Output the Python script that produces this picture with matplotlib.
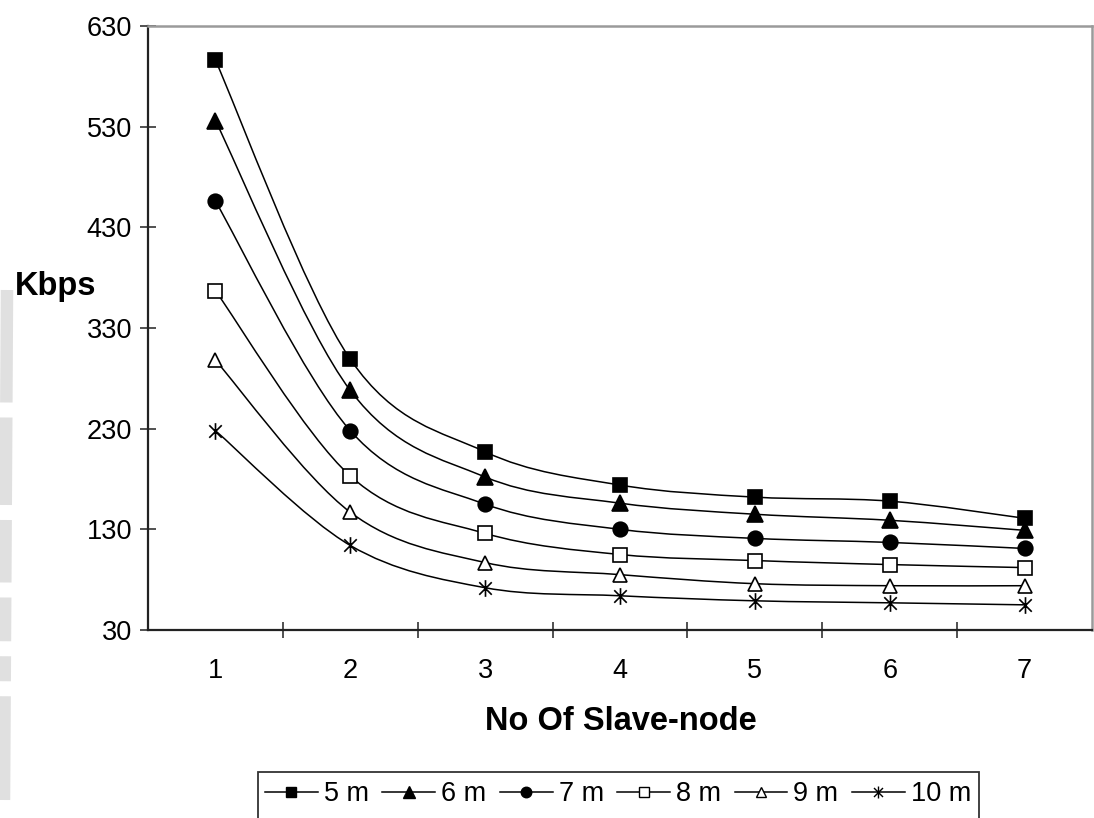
import numpy as np
import matplotlib
matplotlib.use("Agg")
import matplotlib.pyplot as plt
from matplotlib.path import Path
from matplotlib.patches import PathPatch, Rectangle
from matplotlib.lines import Line2D

plt.rcParams["font.family"] = ["Liberation Sans", "DejaVu Sans"]

# Throughput (Kbps) versus number of slave nodes, one series per distance
slave_nodes = [1, 2, 3, 4, 5, 6, 7]
series_labels = ["5 m", "6 m", "7 m", "8 m", "9 m", "10 m"]
kbps_5m = [596, 299, 207, 174, 162, 158, 141]
kbps_6m = [536, 268, 182, 156, 145, 139, 129]
kbps_7m = [456, 228, 155, 130, 121, 117, 111]
kbps_8m = [367, 183, 126, 105, 99, 95, 92]
kbps_9m = [298, 147, 97, 85, 76, 74, 74]
kbps_10m = [228, 114, 72, 64, 59, 57, 55]
y_ticks = [30, 130, 230, 330, 430, 530, 630]

all_series = [kbps_5m, kbps_6m, kbps_7m, kbps_8m, kbps_9m, kbps_10m]

# asterisk marker: vertical bar plus an X
star = Path(
    [(0, -1), (0, 1), (-0.75, -0.75), (0.75, 0.75), (-0.75, 0.75), (0.75, -0.75)],
    [Path.MOVETO, Path.LINETO, Path.MOVETO, Path.LINETO, Path.MOVETO, Path.LINETO],
)
marker_styles = [
    dict(marker="s", mfc="black", ms=10.5),
    dict(marker="^", mfc="black", ms=11.5),
    dict(marker="o", mfc="black", ms=10.5),
    dict(marker="s", mfc="white", ms=10.5),
    dict(marker="^", mfc="white", ms=10.5),
    dict(marker=star, mfc="none", ms=12),
]


def smooth_path(xs, ys):
    """Bezier path through the points with Catmull-Rom style control points."""
    pts = np.column_stack([xs, ys]).astype(float)
    n = len(pts)
    verts = [tuple(pts[0])]
    codes = [Path.MOVETO]
    for i in range(n - 1):
        p0 = pts[max(i - 1, 0)]
        p1 = pts[i]
        p2 = pts[i + 1]
        p3 = pts[min(i + 2, n - 1)]
        c1 = p1 + (p2 - p0) / 6.0
        c2 = p2 - (p3 - p1) / 6.0
        verts += [tuple(c1), tuple(c2), tuple(p2)]
        codes += [Path.CURVE4] * 3
    return Path(verts, codes)


fig = plt.figure(figsize=(10.94, 8.18), dpi=100)
ax = fig.add_axes([148 / 1094, 188 / 818, 944 / 1094, 604 / 818])

for vals, style in zip(all_series, marker_styles):
    ax.add_patch(PathPatch(smooth_path(slave_nodes, vals), fill=False,
                           edgecolor="black", lw=1.1, zorder=2))
    ax.plot(slave_nodes, vals, ls="none", mec="black", mew=1.2, zorder=3, **style)

ax.set_xlim(0.5, 7.5)
ax.set_ylim(30, 630)

# category labels at centres, tick marks on the boundaries
ax.set_xticks(slave_nodes)
ax.set_xticklabels([str(v) for v in slave_nodes])
ax.set_xticks(np.arange(1.5, 7.5, 1.0), minor=True)
ax.tick_params(axis="x", which="major", length=0, pad=20, labelsize=19.5)
ax.tick_params(axis="x", which="minor", direction="inout", length=11, width=1.1,
               color="#222222")
ax.set_yticks(y_ticks)
ax.tick_params(axis="y", which="major", direction="inout", length=11, width=1.1,
               color="#222222", pad=6, labelsize=19.5)

for side in ("left", "bottom"):
    ax.spines[side].set_linewidth(1.6)
    ax.spines[side].set_color("#222222")
for side in ("top", "right"):
    ax.spines[side].set_linewidth(1.8)
    ax.spines[side].set_color("#9a9a9a")

fig.text(15 / 1094, 1 - 287 / 818, "Kbps", fontsize=23.5, fontweight="bold",
         ha="left", va="center")
fig.text(621 / 1094, 1 - 722 / 818, "No Of Slave-node", fontsize=23.5,
         fontweight="bold", ha="center", va="center")

handles = [Line2D([], [], color="black", lw=1.1, mec="black", mew=1.0,
                  **{**s, "ms": s["ms"] * 0.72}) for s in marker_styles]
leg = fig.legend(handles, series_labels, ncol=6, loc="center left",
                 bbox_to_anchor=(265 / 1094, 1 - 794 / 818),
                 frameon=False, fontsize=19.5, handlelength=1.95,
                 handletextpad=0.22, columnspacing=0.5, borderpad=0,
                 borderaxespad=0)

# legend box: open at the bottom edge of the figure
fig.canvas.draw()
bb = leg.get_window_extent().transformed(fig.transFigure.inverted())
fig.add_artist(Rectangle((bb.x0 - 7 / 1094, -0.05), bb.width + 15 / 1094,
                         (1 - 772 / 818) + 0.05, transform=fig.transFigure,
                         fill=False, edgecolor="#333333", lw=1.3))

# faint watermark stroke along the left edge
fig.add_artist(Line2D([7 / 1094, 4 / 1094], [1 - 290 / 818, 1 - 800 / 818],
                      transform=fig.transFigure, color="#e0e0e0", lw=9,
                      dashes=(9, 1.2, 7, 1.2, 5, 1.2, 3.5, 1.2, 2, 1.2),
                      solid_capstyle="butt", zorder=0))

fig.savefig("out.png", dpi=100)
